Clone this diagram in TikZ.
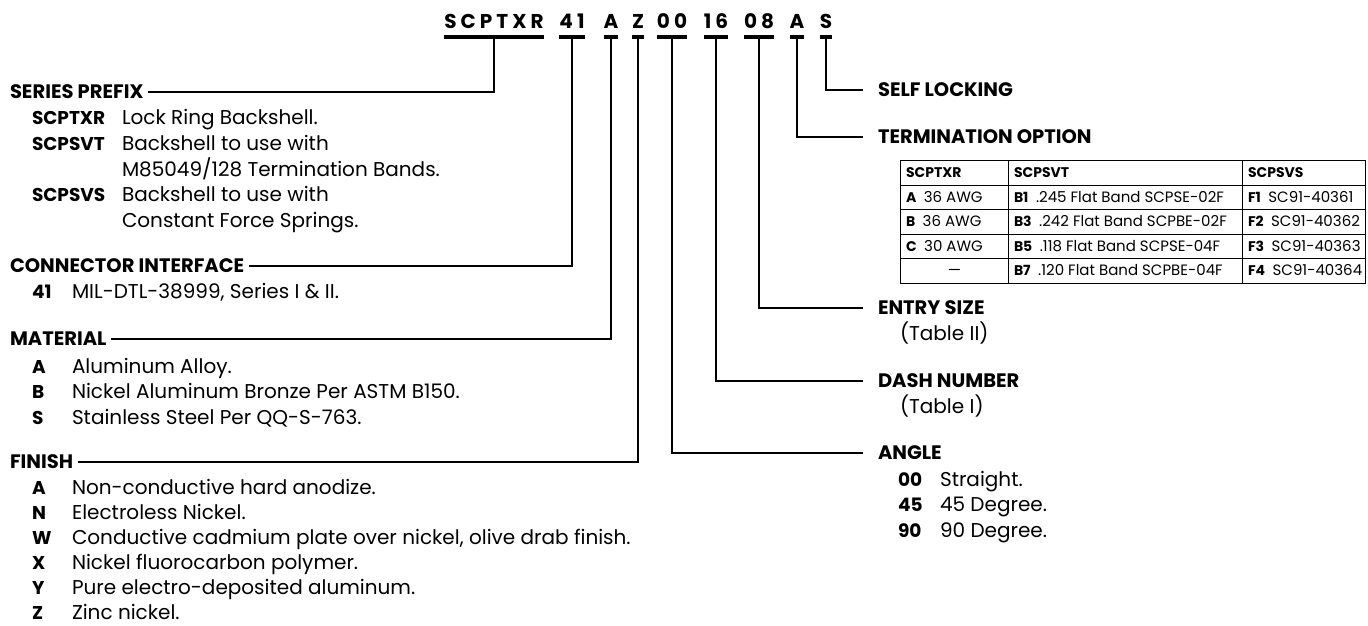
\documentclass[tikz,border=0pt]{standalone}
\usepackage{fontspec}
\setmainfont{Poppins}
\usepackage{array}
\usetikzlibrary{positioning}

\newcommand\lcode[1]{{\fontsize{18.5}{25}\selectfont\bfseries #1}}
\newcommand\tcode[1]{{\fontsize{14}{23.6}\selectfont\bfseries #1}}

\begin{document}
\begin{tikzpicture}[
    x=1pt, y=-1pt,
    every node/.style={inner sep=0pt, outer sep=0pt},
    code/.style={anchor=base, font=\fontsize{20}{20}\selectfont\bfseries\addfontfeatures{LetterSpace=20}},
    bar/.style={line width=4.5pt},
    lead/.style={line width=2pt},
    head/.style={anchor=west, font=\fontsize{19.5}{19.5}\selectfont\bfseries},
    list/.style={anchor=base west, font=\fontsize{20}{25.5}\selectfont},
    flist/.style={list, font=\fontsize{20}{25}\selectfont},
    opt/.style={anchor=north west, font=\fontsize{15}{23.6}\selectfont}
  ]
  \useasboundingbox (0,0) rectangle (1368,626);

  % part number
  \node[code] (pfx) at (494,29) {SCPTXR};
  \node[code] (ifc) at (572,29) {41};
  \node[code] (mat) at (611,29) {A};
  \node[code] (fin) at (638,29) {Z};
  \node[code] (ang) at (672,29) {00};
  \node[code] (dsh) at (716,29) {16};
  \node[code] (ent) at (759,29) {08};
  \node[code] (trm) at (797,29) {A};
  \node[code] (lck) at (826,29) {S};
  \foreach \n in {pfx,ifc,mat,fin,ang,dsh,ent,trm,lck}
    \draw[bar] ([yshift=-8pt]\n.base west) -- ([yshift=-8pt]\n.base east);

  % left side
  \node[head] (hPfx) at (10,92) {SERIES PREFIX};
  \node[list] (lPfx) at (32,124.5) {\begin{tabular}[t]{@{}p{90pt}@{}l@{}}
    \lcode{SCPTXR} & Lock Ring Backshell.\\
    \lcode{SCPSVT} & Backshell to use with\\
    & M85049/128 Termination Bands.\\
    \lcode{SCPSVS} & Backshell to use with\\
    & Constant Force Springs.
  \end{tabular}};

  \node[head] (hIfc) at (10,266) {CONNECTOR INTERFACE};
  \node[list] (lIfc) at (32,298.5) {\begin{tabular}[t]{@{}p{40pt}@{}l@{}}
    \lcode{41} & MIL-DTL-38999, Series I \& II.
  \end{tabular}};

  \node[head] (hMat) at (10,339) {MATERIAL};
  \node[list] (lMat) at (32,373) {\begin{tabular}[t]{@{}p{40pt}@{}l@{}}
    \lcode{A} & Aluminum Alloy.\\
    \lcode{B} & Nickel Aluminum Bronze Per ASTM B150.\\
    \lcode{S} & Stainless Steel Per QQ-S-763.
  \end{tabular}};

  \node[head] (hFin) at (10,462) {FINISH};
  \node[flist] (lFin) at (32,494) {\begin{tabular}[t]{@{}p{40pt}@{}l@{}}
    \lcode{A} & Non-conductive hard anodize.\\
    \lcode{N} & Electroless Nickel.\\
    \lcode{W} & Conductive cadmium plate over nickel, olive drab finish.\\
    \lcode{X} & Nickel fluorocarbon polymer.\\
    \lcode{Y} & Pure electro-deposited aluminum.\\
    \lcode{Z} & Zinc nickel.
  \end{tabular}};

  % right side
  \node[head] (hLck) at (878,90) {SELF LOCKING};
  \node[head] (hTrm) at (878,137) {TERMINATION OPTION};
  \node[opt] (tTrm) at (900,160) {\setlength\tabcolsep{5pt}\setlength\arrayrulewidth{1pt}%
  \begin{tabular}{|>{\raggedright}p{97pt}|>{\raggedright}p{223pt}|>{\raggedright\arraybackslash}p{112pt}|}\hline
    \tcode{SCPTXR} & \tcode{SCPSVT} & \tcode{SCPSVS}\\\hline
    \mbox{\tcode{A}\enspace 36 AWG} & \mbox{\tcode{B1}\enspace .245 Flat Band SCPSE-02F} & \mbox{\tcode{F1}\enspace SC91-40361}\\\hline
    \mbox{\tcode{B}\enspace 36 AWG} & \mbox{\tcode{B3}\enspace .242 Flat Band SCPBE-02F} & \mbox{\tcode{F2}\enspace SC91-40362}\\\hline
    \mbox{\tcode{C}\enspace 30 AWG} & \mbox{\tcode{B5}\enspace .118 Flat Band SCPSE-04F} & \mbox{\tcode{F3}\enspace SC91-40363}\\\hline
    \multicolumn{1}{|c|}{---} & \mbox{\tcode{B7}\enspace .120 Flat Band SCPBE-04F} & \mbox{\tcode{F4}\enspace SC91-40364}\\\hline
  \end{tabular}};

  \node[head] (hEnt) at (878,308) {ENTRY SIZE};
  \node[list] (lEnt) at (900,340) {(Table II)};
  \node[head] (hDsh) at (878,381) {DASH NUMBER};
  \node[list] (lDsh) at (900,413) {(Table I)};
  \node[head] (hAng) at (878,453) {ANGLE};
  \node[list] (lAng) at (898,486) {\begin{tabular}[t]{@{}p{42pt}@{}l@{}}
    \lcode{00} & Straight.\\
    \lcode{45} & 45 Degree.\\
    \lcode{90} & 90 Degree.
  \end{tabular}};

  % leaders
  \draw[lead, shorten >=5pt] ([yshift=-8pt]pfx.base) |- (hPfx.east);
  \draw[lead, shorten >=5pt] ([yshift=-8pt]ifc.base) |- (hIfc.east);
  \draw[lead, shorten >=5pt] ([yshift=-8pt]mat.base) |- (hMat.east);
  \draw[lead, shorten >=5pt] ([yshift=-8pt]fin.base) |- (hFin.east);
  \draw[lead, shorten >=15pt] ([yshift=-8pt]lck.base) |- (hLck.west);
  \draw[lead, shorten >=15pt] ([yshift=-8pt]trm.base) |- (hTrm.west);
  \draw[lead, shorten >=15pt] ([yshift=-8pt]ent.base) |- (hEnt.west);
  \draw[lead, shorten >=15pt] ([yshift=-8pt]dsh.base) |- (hDsh.west);
  \draw[lead, shorten >=15pt] ([yshift=-8pt]ang.base) |- (hAng.west);
\end{tikzpicture}
\end{document}
